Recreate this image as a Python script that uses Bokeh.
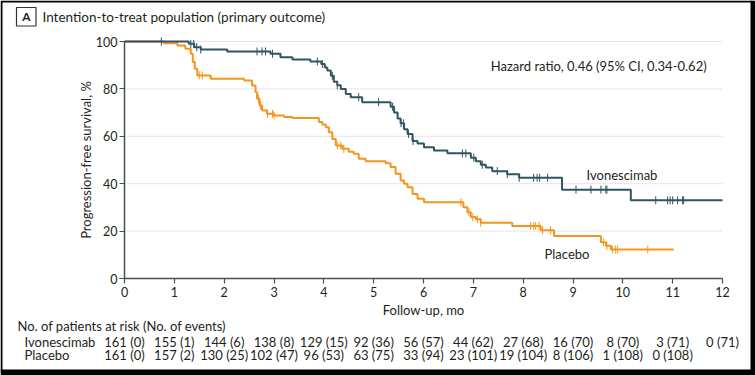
import numpy as np
from bokeh.plotting import figure
from bokeh.models import FixedTicker, Range1d, LinearAxis
from bokeh.core.properties import value
from bokeh.embed import file_html
from bokeh.resources import INLINE

# ---------------- data ----------------
ivo_t = [0, 1.29, 1.40, 1.53, 2.06, 2.93, 3.13, 3.37, 3.73, 3.95, 4.02, 4.07, 4.14, 4.20,
         4.27, 4.34, 4.44, 4.54, 4.77, 5.34, 5.41, 5.48, 5.54, 5.61, 5.68, 5.78, 5.88, 6.01,
         6.21, 6.48, 6.95, 7.05, 7.15, 7.25, 7.38, 7.68, 7.92, 8.78, 10.16, 12.0]
ivo_s = [100, 99.0, 97.6, 96.6, 95.8, 94.8, 93.4, 92.4, 91.6, 90.5, 89.0, 87.8, 85.5, 83.0,
         81.5, 80.0, 77.8, 76.5, 74.4, 72.5, 70.0, 67.5, 65.5, 63.0, 61.0, 58.0, 57.0, 55.4,
         54.0, 52.8, 51.0, 49.5, 48.0, 46.8, 45.3, 44.0, 42.5, 37.5, 33.0, 33.0]

pla_t = [0, 0.79, 1.06, 1.22, 1.33, 1.37, 1.41, 1.46, 1.73, 2.40, 2.56, 2.63, 2.66, 2.71,
         2.76, 2.86, 3.00, 3.20, 3.37, 3.90, 3.97, 4.04, 4.10, 4.17, 4.24, 4.37, 4.50, 4.60,
         4.70, 4.84, 5.24, 5.34, 5.44, 5.54, 5.61, 5.68, 5.78, 5.88, 6.01, 6.80, 6.88, 6.95,
         7.05, 7.15, 7.78, 8.35, 8.62, 9.56, 9.66, 9.76, 11.02]
pla_s = [100, 99.3, 98.3, 96.9, 94.8, 91.3, 88.5, 85.7, 84.3, 83.5, 81.4, 78.6, 75.8, 73.0,
         70.9, 69.5, 68.8, 68.1, 67.7, 66.0, 65.0, 63.8, 61.7, 58.9, 56.1, 54.7, 53.5, 52.6,
         50.5, 49.5, 48.6, 47.0, 44.2, 41.4, 40.0, 38.5, 35.7, 33.6, 32.2, 30.1, 28.0, 26.0,
         25.0, 23.5, 22.2, 20.4, 17.9, 15.3, 13.8, 12.2, 12.2]

ivo_cens = [0.74, 1.33, 1.39, 1.45, 1.53, 2.66, 2.76, 2.83, 2.97, 3.87, 3.97, 4.17, 4.27,
            4.70, 5.10, 5.38, 5.55, 5.60, 5.70, 5.79, 6.78, 6.85, 7.01, 7.18, 7.48, 7.68,
            7.92, 8.21, 8.28, 8.33, 8.49, 9.06, 9.36, 9.56, 9.66, 9.68, 10.66, 10.90, 10.95,
            11.00, 11.10, 11.20, 11.22]
pla_cens = [1.50, 1.56, 2.69, 2.73, 2.87, 2.97, 3.00, 4.27, 4.34, 4.40, 6.75, 6.91, 6.99,
            7.08, 7.15, 8.15, 8.21, 8.25, 8.32, 8.39, 8.55, 9.61, 9.68, 9.79, 9.85, 9.89, 10.50]

x_ticks = [0, 1, 2, 3, 4, 5, 6, 7, 8, 9, 10, 11, 12]
y_ticks = [0, 20, 40, 60, 80, 100]
grid_levels = [20, 40, 60, 80, 100]

risk_months = [0, 1, 2, 3, 4, 5, 6, 7, 8, 9, 10, 11, 12]
ivo_at_risk = [161, 155, 144, 138, 129, 92, 56, 44, 27, 16, 8, 3, 0]
ivo_events = [0, 1, 6, 8, 15, 36, 57, 62, 68, 70, 70, 71, 71]
pla_at_risk = [161, 157, 130, 102, 96, 63, 33, 23, 19, 8, 1, 0]
pla_events = [0, 2, 25, 47, 53, 75, 94, 101, 104, 106, 108, 108]

IVO = "#2E5561"
PLA = "#F7941D"
TXT = "#231F20"
AX = "#4D4D4D"
FONT = "Lato"

W, H = 755, 375
# pixel layout: month 0 -> x=124, month 12 -> x=722; 0% -> y=278, 100% -> y=41
PXM = 598 / 12.0
PYU = 237 / 100.0


def dx(cx):
    return (cx - 124) / PXM


def dy(cy):
    return (278 - cy) / PYU


p = figure(width=W, height=H, output_backend="svg", toolbar_location=None,
           x_range=Range1d(dx(0), dx(W)), y_range=Range1d(dy(H), dy(0)),
           x_axis_type=None, y_axis_type=None,
           min_border=0, min_border_left=0, min_border_right=0,
           min_border_top=0, min_border_bottom=0,
           background_fill_color="white", border_fill_color="white")
p.outline_line_color = None
p.grid.visible = False

# axes placed at the data origin
xax = LinearAxis(fixed_location=0, ticker=FixedTicker(ticks=x_ticks), bounds=(0, 12),
                 axis_label="Follow-up, mo")
yax = LinearAxis(fixed_location=0, ticker=FixedTicker(ticks=y_ticks), bounds=(0, 100),
                 axis_label="Progression-free survival, %")
for ax in (xax, yax):
    ax.axis_line_color = AX
    ax.axis_line_width = 1.5
    ax.major_tick_line_color = AX
    ax.major_tick_line_width = 1.2
    ax.major_tick_out = 5
    ax.major_tick_in = 0
    ax.minor_tick_line_color = None
    ax.major_label_text_font = FONT
    ax.major_label_text_font_size = "12.5px"
    ax.major_label_text_color = TXT
    ax.axis_label_text_font = FONT
    ax.axis_label_text_font_size = "13px"
    ax.axis_label_text_font_style = "normal"
    ax.axis_label_text_color = TXT
xax.major_label_standoff = 3
yax.major_label_standoff = 2
xax.axis_label_standoff = 2
yax.axis_label_standoff = -1

# horizontal grid
p.segment(x0=[0] * len(grid_levels), x1=[12] * len(grid_levels), y0=grid_levels,
          y1=grid_levels, line_color="#E6E6E6", line_width=1)

p.add_layout(xax, "below")
p.add_layout(yax, "left")


def step_value(ts, ss, c):
    idx = np.searchsorted(np.asarray(ts), np.asarray(c), side="right") - 1
    return np.asarray(ss)[idx]


# curves
p.step(x=pla_t, y=pla_s, mode="after", line_color=PLA, line_width=2)
p.step(x=ivo_t, y=ivo_s, mode="after", line_color=IVO, line_width=2)
p.scatter(x=pla_cens, y=step_value(pla_t, pla_s, pla_cens), marker="dash", angle=np.pi / 2,
          size=8, line_color=PLA, line_width=1)
p.scatter(x=ivo_cens, y=step_value(ivo_t, ivo_s, ivo_cens), marker="dash", angle=np.pi / 2,
          size=8, line_color=IVO, line_width=1)


def txt(xs, ys, texts, align="left", size="12.5px", style="normal"):
    p.text(x=xs, y=ys, text=texts, text_font=value(FONT), text_font_size=value(size),
           text_color=TXT, text_align=align, text_baseline="middle",
           text_font_style=style)


# in-plot labels
txt([7.35], [dy(65)], ["Hazard ratio, 0.46 (95% CI, 0.34-0.62)"], size="13px")
txt([dx(586)], [dy(174)], ["Ivonescimab"], size="13px")
txt([dx(544)], [dy(253)], ["Placebo"], size="13px")

# title panel
txt([dx(42)], [dy(16)], ["Intention-to-treat population (primary outcome)"], size="13.5px")
txt([dx(25.8)], [dy(16.3)], ["A"], align="center", size="12px", style="bold")
p.quad(left=[dx(16)], right=[dx(35.5)], top=[dy(7)], bottom=[dy(25.5)],
       fill_color=None, line_color="#333333", line_width=1.2)

# outer frame
p.quad(left=[dx(1)], right=[dx(752)], top=[dy(1)], bottom=[dy(371)],
       fill_color=None, line_color="black", line_width=2)
p.quad(left=[dx(750)], right=[dx(756)], top=[dy(0)], bottom=[dy(376)],
       fill_color="black", line_color=None)
p.quad(left=[dx(0)], right=[dx(756)], top=[dy(369)], bottom=[dy(376)],
       fill_color="black", line_color=None)

# risk table
txt([dx(17)], [dy(325.5)], ["No. of patients at risk (No. of events)"], size="13px")
txt([dx(24), dx(24)], [dy(341.5), dy(354)], ["Ivonescimab", "Placebo"], size="13px")
txt(risk_months, [dy(341.5)] * len(risk_months),
    [f"{n} ({e})" for n, e in zip(ivo_at_risk, ivo_events)], align="center", size="13px")
txt(risk_months[:len(pla_at_risk)], [dy(354)] * len(pla_at_risk),
    [f"{n} ({e})" for n, e in zip(pla_at_risk, pla_events)], align="center", size="13px")

open("out.html", "w").write(file_html(p, INLINE))
